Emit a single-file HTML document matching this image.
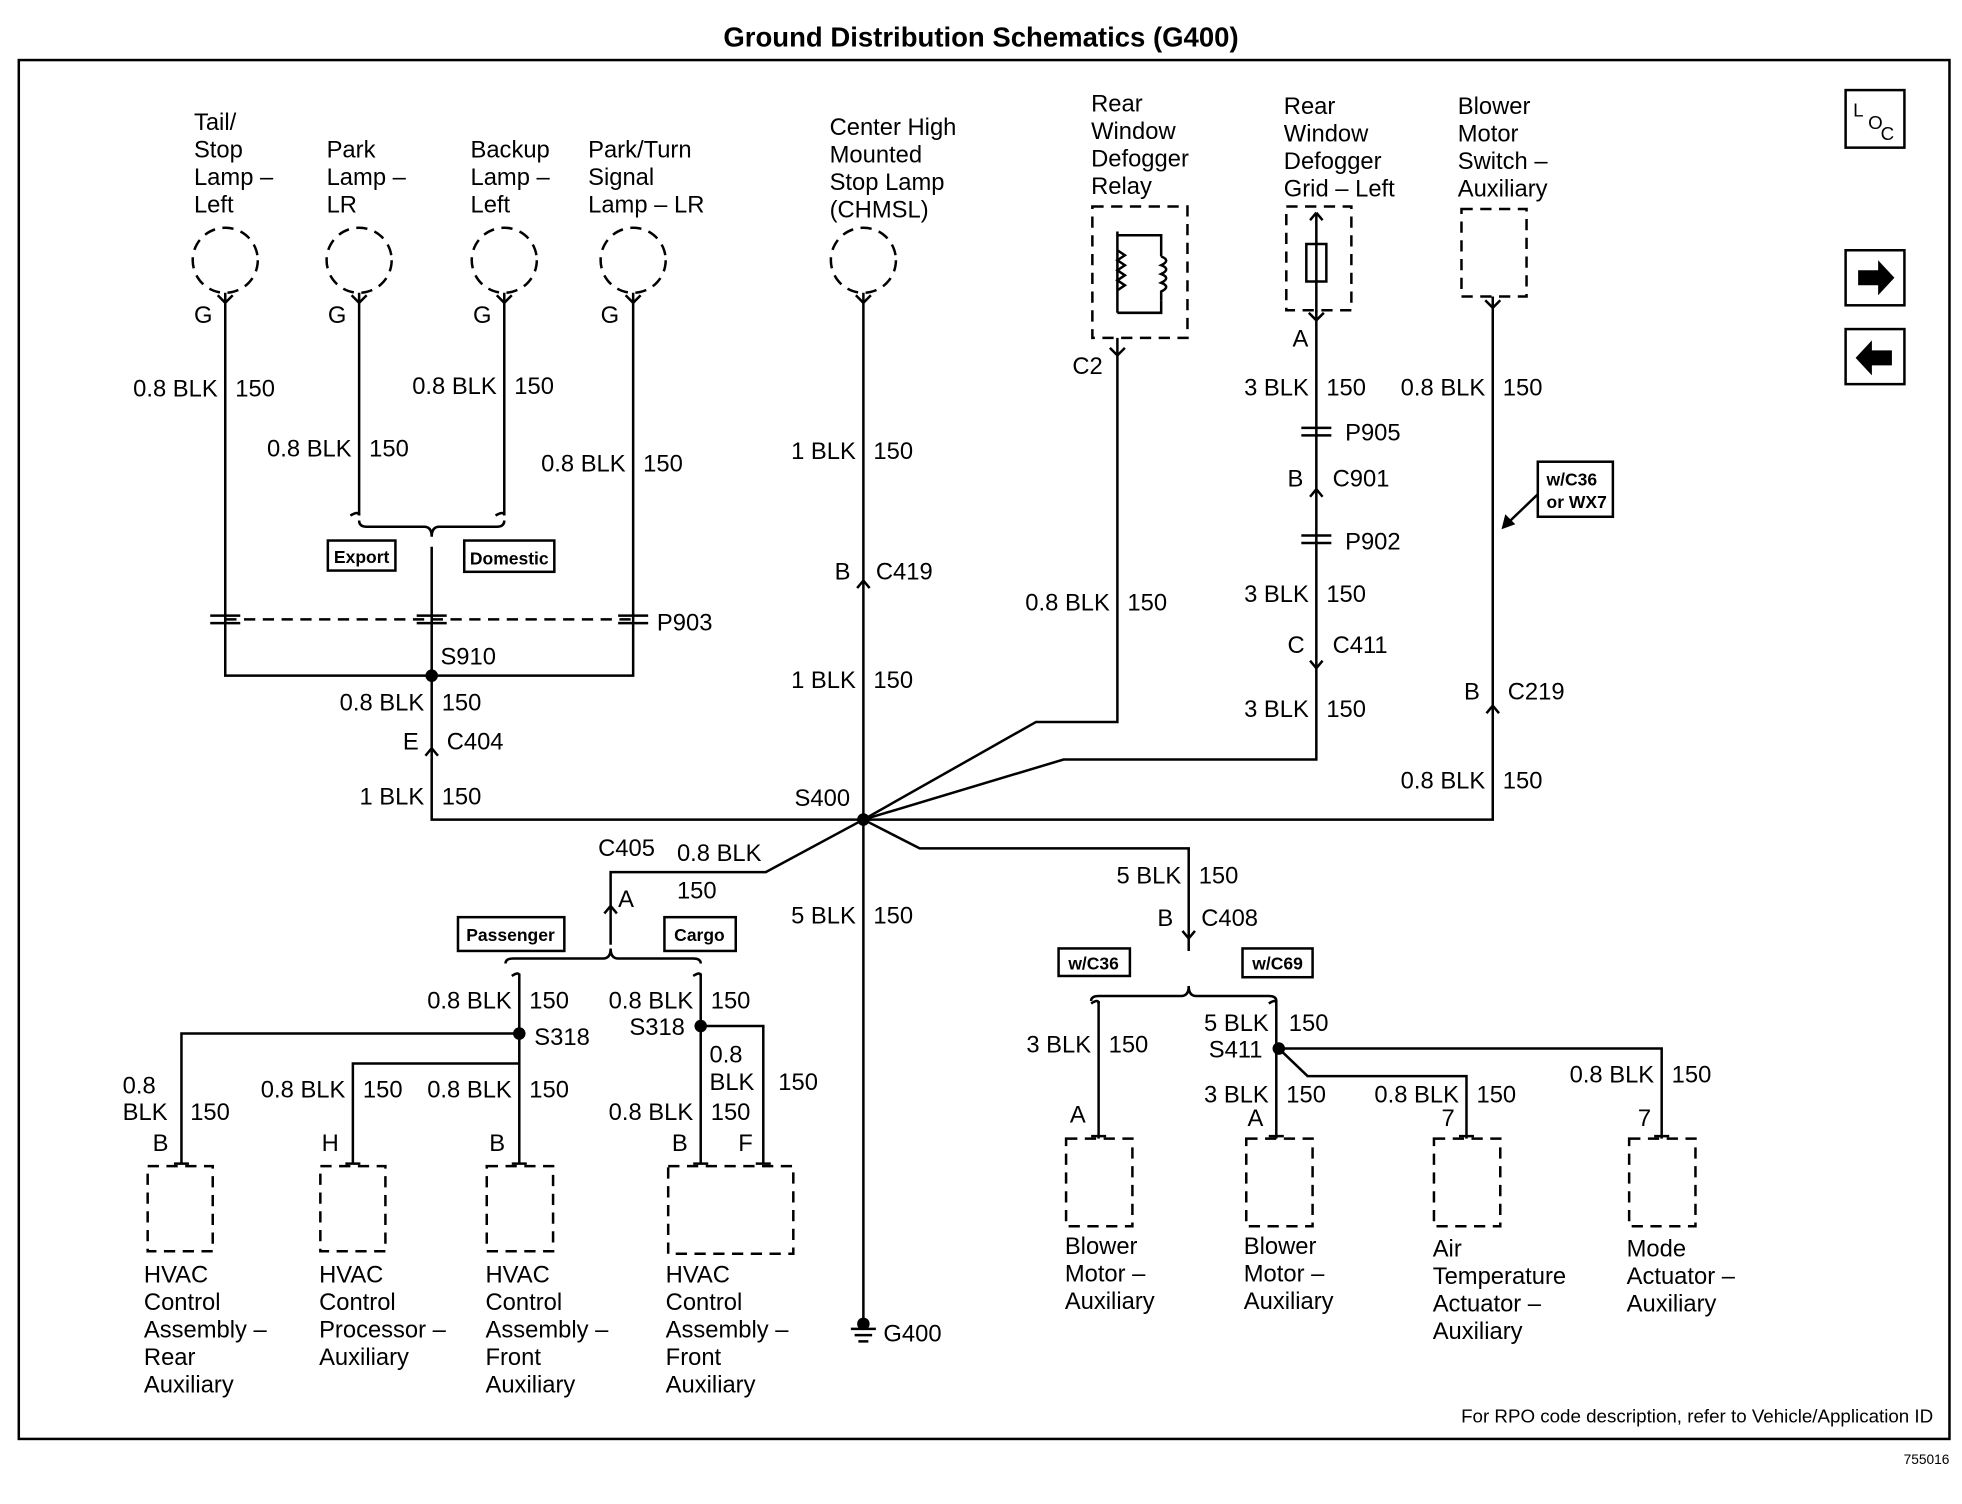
<!DOCTYPE html>
<html><head><meta charset="utf-8"><style>
html,body{margin:0;padding:0;background:#fff;}
svg{display:block;}
text{font-family:"Liberation Sans",Arial,sans-serif;font-size:19px;fill:#000;}
.b{font-weight:bold;}
.s{font-size:14px;font-weight:bold;}
</style></head><body>
<svg width="1962" height="1504" viewBox="0 0 1568 1202" xmlns="http://www.w3.org/2000/svg">
<g stroke="#000" stroke-width="2" fill="none">
<rect x="15" y="48" width="1543" height="1102"/>
<!-- dashed circles -->
<g stroke-dasharray="9,6">
<circle cx="180" cy="208" r="26"/><circle cx="287" cy="208" r="26"/><circle cx="403" cy="208" r="26"/><circle cx="506" cy="208" r="26"/><circle cx="690" cy="208" r="26"/>
<rect x="873" y="165" width="76" height="105"/>
<rect x="1028" y="165" width="52" height="83"/>
<rect x="1168" y="167" width="52" height="70"/>
<rect x="118" y="932" width="52" height="68"/><rect x="256" y="932" width="52" height="68"/><rect x="389" y="932" width="53" height="68"/><rect x="534" y="932" width="100" height="70"/>
<rect x="852" y="910" width="53" height="70"/><rect x="996" y="910" width="53" height="70"/><rect x="1146" y="910" width="53" height="70"/><rect x="1302" y="910" width="53" height="70"/>
<line x1="180" y1="495" x2="506" y2="495"/>
</g>
<!-- wires -->
<polyline points="180,234 180,540 506,540 506,234"/>
<line x1="287" y1="234" x2="287" y2="412"/><line x1="403" y1="234" x2="403" y2="412"/>
<path d="M280,412 q7,-4 7,0 M396,412 q7,-4 7,0"/>
<path d="M287,416 q0,5 6,5 H339 q6,0 6,8 q0,-8 6,-8 H397 q6,0 6,-5"/>
<polyline points="345,437 345,655 690,655"/>
<line x1="690" y1="234" x2="690" y2="1055"/>
<polyline points="893,270 893,577 828,577 690,655"/>
<polyline points="1052,248 1052,607 850,607 690,655"/>
<polyline points="1193,237 1193,655 690,655"/>
<polyline points="690,655 735,678 950,678 950,760"/>
<polyline points="690,655 612,697 488,697 488,755"/>
<path d="M404,770 q0,-4 6,-4 H482 q6,0 6,-8 q0,8 6,8 H554 q6,0 6,4"/>
<path d="M872,800 q0,-4 6,-4 H944 q6,0 6,-8 q0,8 6,8 H1014 q6,0 6,4"/>
<polyline points="415,778 415,930"/><polyline points="415,826 145,826 145,930"/><polyline points="415,850 282,850 282,930"/>
<polyline points="560,778 560,930"/><polyline points="560,820 610,820 610,930"/>
<line x1="878" y1="800" x2="878" y2="910"/>
<polyline points="1020,800 1020,910"/>
<polyline points="1022,838 1045,860 1172,860 1172,910"/>
<polyline points="1022,838 1328,838 1328,910"/>
<!-- hooks -->
<path d="M409,780 q6,-4 6,0 M554,780 q6,-4 6,0 M872,802 q6,-4 6,0 M1014,802 q6,-4 6,0"/>
<!-- connector chevrons -->
<path d="M340,604 l5,-6 l5,6 M685,470 l5,-6 l5,6 M1047,397 l5,-6 l5,6 M1047,528 l5,6 l5,-6 M1188,570 l5,-6 l5,6 M483,730 l5,-6 l5,6 M945,744 l5,6 l5,-6"/>
<path d="M174,236 l6,6 l6,-6 M281,236 l6,6 l6,-6 M397,236 l6,6 l6,-6 M500,236 l6,6 l6,-6 M684,236 l6,6 l6,-6 M887,278 l6,6 l6,-6 M1046,250 l6,6 l6,-6 M1187,240 l6,6 l6,-6"/>
<path d="M139,930 h12 M276,930 h12 M409,930 h12 M554,930 h12 M604,930 h12 M872,908 h12 M1014,908 h12 M1166,908 h12 M1322,908 h12"/>
<!-- splices -->
<g stroke-width="2">
<path d="M168,492 h24 M168,498 h24 M333,492 h24 M333,498 h24 M494,492 h24 M494,498 h24 M1040,342 h24 M1040,348 h24 M1040,428 h24 M1040,434 h24"/>
</g>
<!-- relay inner -->
<path d="M893,185 V250 M893,188 h35 v17 M928,240 v10 h-35" />
<path d="M928,205 q8,3 0,7 q8,3 0,7 q8,3 0,7 q8,3 0,7 v7"/>
<path d="M893,200 l6,4 l-6,4 l6,4 l-6,4 l6,4 l-6,4 l6,4 l-6,4"/>
<!-- grid inner -->
<path d="M1052,170 V250 M1044,195 h16 v30 h-16 z M1052,170 l-5,6 M1052,170 l5,6"/>
<!-- ground -->
<path d="M680,1062 h20 M683,1067 h14 M686,1072 h8"/>
<!-- boxes -->
<rect x="262" y="432" width="54" height="24"/><rect x="371" y="432" width="72" height="25"/>
<rect x="366" y="733" width="85" height="27"/><rect x="531" y="733" width="57" height="27"/>
<rect x="846" y="758" width="57" height="22"/><rect x="993" y="758" width="56" height="23"/>
<rect x="1229" y="369" width="60" height="44"/>
<line x1="1229" y1="395" x2="1203" y2="420"/>
<rect x="1475" y="72" width="47" height="46"/><rect x="1475" y="200" width="47" height="44"/><rect x="1475" y="263" width="47" height="44"/>
</g>
<g fill="#000">
<circle cx="345" cy="540" r="5"/><circle cx="690" cy="655" r="5"/><circle cx="415" cy="826" r="5"/><circle cx="560" cy="820" r="5"/><circle cx="1022" cy="838" r="5"/>
<circle cx="690" cy="1058" r="5"/>
<path d="M1200,423 l3,-12 l8,8 z"/>
<path d="M1485,216 h16 v-8 l13,14 l-13,14 v-8 h-16 z"/>
<path d="M1512,280 h-16 v-8 l-13,14 l13,14 v-8 h16 z"/>
</g>
<text class="b" x="784" y="37" text-anchor="middle" style="font-size:22px">Ground Distribution Schematics (G400)</text>
<text x="1545" y="1137" text-anchor="end" style="font-size:15px">For RPO code description, refer to Vehicle/Application ID</text>
<text x="1558" y="1170" text-anchor="end" style="font-size:11px">755016</text>
<text x="1481" y="93" style="font-size:15px">L</text><text x="1493" y="103" style="font-size:15px">O</text><text x="1503" y="112" style="font-size:15px">C</text>
<!-- component labels -->
<text x="155" y="104">Tail/</text><text x="155" y="126">Stop</text><text x="155" y="148">Lamp –</text><text x="155" y="170">Left</text>
<text x="261" y="126">Park</text><text x="261" y="148">Lamp –</text><text x="261" y="170">LR</text>
<text x="376" y="126">Backup</text><text x="376" y="148">Lamp –</text><text x="376" y="170">Left</text>
<text x="470" y="126">Park/Turn</text><text x="470" y="148">Signal</text><text x="470" y="170">Lamp – LR</text>
<text x="663" y="108">Center High</text><text x="663" y="130">Mounted</text><text x="663" y="152">Stop Lamp</text><text x="663" y="174">(CHMSL)</text>
<text x="872" y="89">Rear</text><text x="872" y="111">Window</text><text x="872" y="133">Defogger</text><text x="872" y="155">Relay</text>
<text x="1026" y="91">Rear</text><text x="1026" y="113">Window</text><text x="1026" y="135">Defogger</text><text x="1026" y="157">Grid – Left</text>
<text x="1165" y="91">Blower</text><text x="1165" y="113">Motor</text><text x="1165" y="135">Switch –</text><text x="1165" y="157">Auxiliary</text>
<text x="115" y="1025">HVAC</text><text x="115" y="1047">Control</text><text x="115" y="1069">Assembly –</text><text x="115" y="1091">Rear</text><text x="115" y="1113">Auxiliary</text>
<text x="255" y="1025">HVAC</text><text x="255" y="1047">Control</text><text x="255" y="1069">Processor –</text><text x="255" y="1091">Auxiliary</text>
<text x="388" y="1025">HVAC</text><text x="388" y="1047">Control</text><text x="388" y="1069">Assembly –</text><text x="388" y="1091">Front</text><text x="388" y="1113">Auxiliary</text>
<text x="532" y="1025">HVAC</text><text x="532" y="1047">Control</text><text x="532" y="1069">Assembly –</text><text x="532" y="1091">Front</text><text x="532" y="1113">Auxiliary</text>
<text x="851" y="1002">Blower</text><text x="851" y="1024">Motor –</text><text x="851" y="1046">Auxiliary</text>
<text x="994" y="1002">Blower</text><text x="994" y="1024">Motor –</text><text x="994" y="1046">Auxiliary</text>
<text x="1145" y="1004">Air</text><text x="1145" y="1026">Temperature</text><text x="1145" y="1048">Actuator –</text><text x="1145" y="1070">Auxiliary</text>
<text x="1300" y="1004">Mode</text><text x="1300" y="1026">Actuator –</text><text x="1300" y="1048">Auxiliary</text>
<!-- pins -->
<text x="155" y="258">G</text><text x="262" y="258">G</text><text x="378" y="258">G</text><text x="480" y="258">G</text>
<text x="857" y="299">C2</text><text x="1033" y="277">A</text>
<!-- wire labels -->
<g>
<text x="174" y="317" text-anchor="end">0.8 BLK</text><text x="188" y="317">150</text>
<text x="281" y="365" text-anchor="end">0.8 BLK</text><text x="295" y="365">150</text>
<text x="397" y="315" text-anchor="end">0.8 BLK</text><text x="411" y="315">150</text>
<text x="500" y="377" text-anchor="end">0.8 BLK</text><text x="514" y="377">150</text>
<text x="684" y="367" text-anchor="end">1 BLK</text><text x="698" y="367">150</text>
<text x="684" y="550" text-anchor="end">1 BLK</text><text x="698" y="550">150</text>
<text x="684" y="738" text-anchor="end">5 BLK</text><text x="698" y="738">150</text>
<text x="887" y="488" text-anchor="end">0.8 BLK</text><text x="901" y="488">150</text>
<text x="1046" y="316" text-anchor="end">3 BLK</text><text x="1060" y="316">150</text>
<text x="1046" y="481" text-anchor="end">3 BLK</text><text x="1060" y="481">150</text>
<text x="1046" y="573" text-anchor="end">3 BLK</text><text x="1060" y="573">150</text>
<text x="1187" y="316" text-anchor="end">0.8 BLK</text><text x="1201" y="316">150</text>
<text x="1187" y="630" text-anchor="end">0.8 BLK</text><text x="1201" y="630">150</text>
<text x="339" y="568" text-anchor="end">0.8 BLK</text><text x="353" y="568">150</text>
<text x="339" y="643" text-anchor="end">1 BLK</text><text x="353" y="643">150</text>
<text x="944" y="706" text-anchor="end">5 BLK</text><text x="958" y="706">150</text>
<text x="409" y="806" text-anchor="end">0.8 BLK</text><text x="423" y="806">150</text>
<text x="554" y="806" text-anchor="end">0.8 BLK</text><text x="568" y="806">150</text>
<text x="98" y="874">0.8</text><text x="98" y="895">BLK</text><text x="152" y="895">150</text>
<text x="276" y="877" text-anchor="end">0.8 BLK</text><text x="290" y="877">150</text>
<text x="409" y="877" text-anchor="end">0.8 BLK</text><text x="423" y="877">150</text>
<text x="567" y="849">0.8</text><text x="567" y="871">BLK</text><text x="622" y="871">150</text>
<text x="554" y="895" text-anchor="end">0.8 BLK</text><text x="568" y="895">150</text>
<text x="872" y="841" text-anchor="end">3 BLK</text><text x="886" y="841">150</text>
<text x="1014" y="824" text-anchor="end">5 BLK</text><text x="1030" y="824">150</text>
<text x="1014" y="881" text-anchor="end">3 BLK</text><text x="1028" y="881">150</text>
<text x="1166" y="881" text-anchor="end">0.8 BLK</text><text x="1180" y="881">150</text>
<text x="1322" y="865" text-anchor="end">0.8 BLK</text><text x="1336" y="865">150</text>
</g>
<!-- separator ticks -->
<g stroke="#000" stroke-width="1.5">
</g>
<!-- connector / splice names -->
<text x="525" y="504">P903</text><text x="352" y="531">S910</text>
<text x="322" y="599">E</text><text x="357" y="599">C404</text>
<text x="667" y="463">B</text><text x="700" y="463">C419</text>
<text x="635" y="644">S400</text><text x="706" y="1072">G400</text>
<text x="1075" y="352">P905</text><text x="1029" y="389">B</text><text x="1065" y="389">C901</text>
<text x="1075" y="439">P902</text><text x="1029" y="522">C</text><text x="1065" y="522">C411</text>
<text x="1170" y="559">B</text><text x="1205" y="559">C219</text>
<text x="478" y="684">C405</text><text x="541" y="688">0.8 BLK</text><text x="541" y="718">150</text><text x="494" y="725">A</text>
<text x="925" y="740">B</text><text x="960" y="740">C408</text>
<text x="427" y="835">S318</text><text x="503" y="827">S318</text><text x="966" y="845">S411</text>
<text x="122" y="920">B</text><text x="257" y="920">H</text><text x="391" y="920">B</text><text x="537" y="920">B</text><text x="590" y="920">F</text>
<text x="855" y="897">A</text><text x="997" y="900">A</text><text x="1152" y="900">7</text><text x="1309" y="900">7</text>
<text class="s" x="289" y="450" text-anchor="middle">Export</text><text class="s" x="407" y="451" text-anchor="middle">Domestic</text>
<text class="s" x="408" y="752" text-anchor="middle">Passenger</text><text class="s" x="559" y="752" text-anchor="middle">Cargo</text>
<text class="s" x="874" y="775" text-anchor="middle">w/C36</text><text class="s" x="1021" y="775" text-anchor="middle">w/C69</text>
<text class="s" x="1236" y="388">w/C36</text><text class="s" x="1236" y="406">or WX7</text>
<!-- vertical separators between wire label parts -->
<g stroke="#000" stroke-width="0">
</g>
</svg>
</body></html>
